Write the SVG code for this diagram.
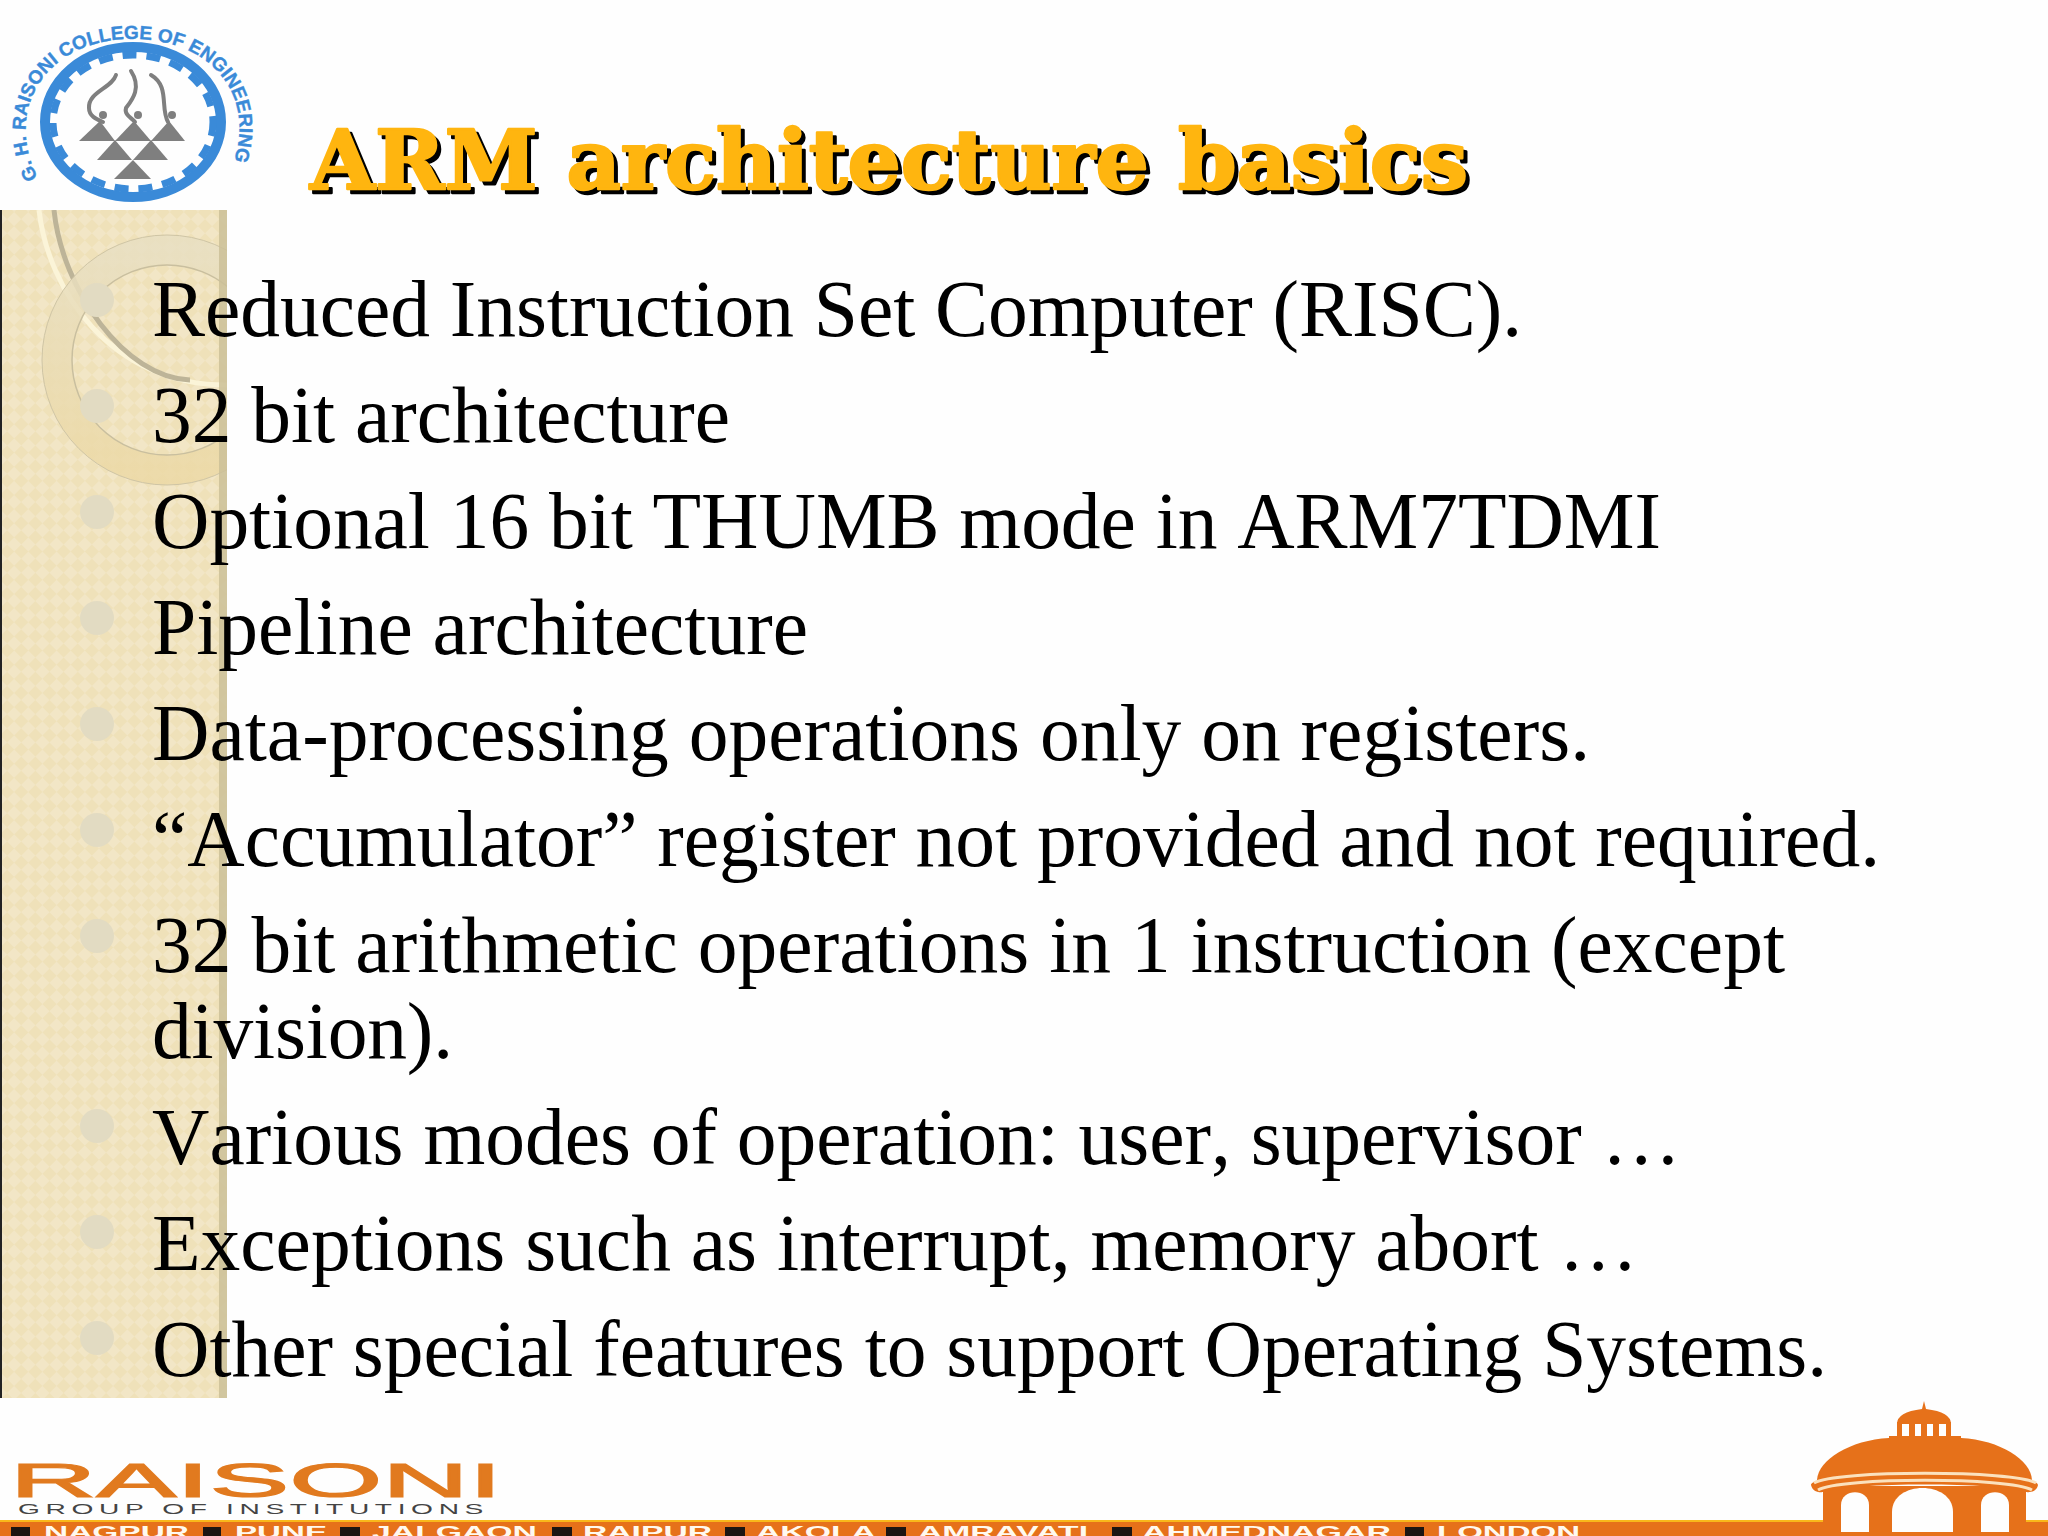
<svg xmlns="http://www.w3.org/2000/svg" width="2048" height="1536" viewBox="0 0 2048 1536">
<style>
.b{font-family:"Liberation Serif","Times New Roman",serif;font-size:79.5px;fill:#000;font-kerning:none}
.t{font-family:"DejaVu Serif",serif;font-weight:700;font-size:83px;stroke-width:2.5px;stroke-linejoin:round}
.l{font-family:"Liberation Sans",Arial,sans-serif;font-weight:700;font-size:17px;fill:#fff9ef}
.lg{font-family:"Liberation Sans",Arial,sans-serif;font-weight:700;font-size:19px;fill:#3a8ad8;stroke:#3a8ad8;stroke-width:.4px}
.d{fill:#e2dbc2}
.s{fill:#1c1512}
.o{fill:#e6711a}
.w{fill:#fefefe}
</style>
<defs>
<pattern id="chk" width="20" height="20" patternUnits="userSpaceOnUse" patternTransform="rotate(45)">
<rect width="20" height="20" fill="#efe1b9"/>
<rect width="10" height="10" fill="#f2e6c6"/>
<rect x="10" y="10" width="10" height="10" fill="#f2e6c6"/>
</pattern>
<linearGradient id="ring" x1="0" y1="0" x2="0" y2="1">
<stop offset="0" stop-color="#e8dfc2"/>
<stop offset="1" stop-color="#ecd9a6"/>
</linearGradient>
<clipPath id="side"><rect x="0" y="210" width="227" height="1188"/></clipPath>
<path id="arcText" d="M38 178C3 110 45 39 133 39C221 39 263 110 226 178"/>
</defs>
<rect width="2048" height="1536" fill="#fefefe"/>
<g id="sidebar" clip-path="url(#side)">
<rect x="0" y="210" width="227" height="1188" fill="url(#chk)"/>
<rect x="0" y="210" width="2" height="1188" fill="#222"/>
<path d="M39 210C48 290 110 385 227 385" fill="none" stroke="#fbf4d8" stroke-width="5"/>
<path d="M54 210C62 290 125 378 190 380" fill="none" stroke="#bdb498" stroke-width="5"/>
<circle cx="167" cy="360" r="110" fill="none" stroke="url(#ring)" stroke-width="30" opacity=".85"/>
<circle cx="167" cy="360" r="125" fill="none" stroke="#cfc5a5" stroke-width="1"/>
<circle cx="167" cy="360" r="95" fill="none" stroke="#c9bf9f" stroke-width="1.5"/>
<rect x="219" y="210" width="8" height="1188" fill="#cbbf98" opacity=".85"/>
<circle class="d" cx="97" cy="300" r="17"/>
<circle class="d" cx="97" cy="406" r="17"/>
<circle class="d" cx="97" cy="512" r="17"/>
<circle class="d" cx="97" cy="618" r="17"/>
<circle class="d" cx="97" cy="724" r="17"/>
<circle class="d" cx="97" cy="830" r="17"/>
<circle class="d" cx="97" cy="936" r="17"/>
<circle class="d" cx="97" cy="1126" r="17"/>
<circle class="d" cx="97" cy="1232" r="17"/>
<circle class="d" cx="97" cy="1338" r="17"/>
</g>
<g id="logo">
<text class="lg"><textPath href="#arcText" textLength="396" lengthAdjust="spacingAndGlyphs">G. H. RAISONI COLLEGE OF ENGINEERING</textPath></text>
<ellipse cx="133" cy="122" rx="88" ry="75" fill="none" stroke="#3a8ad8" stroke-width="10"/>
<ellipse cx="133" cy="122" rx="80" ry="67" fill="none" stroke="#3a8ad8" stroke-width="7" stroke-dasharray="14 10"/>
<g fill="#7f7f7f">
<path d="M79 141L100 121L115 141Z"/>
<path d="M115 141L134 121L151 141Z"/>
<path d="M151 141L169 121L185 141Z"/>
<path d="M97 160L115 140L132 160Z"/>
<path d="M133 160L151 140L168 160Z"/>
<path d="M114 179L133 160L151 179Z"/>
<circle cx="103" cy="115" r="4"/><circle cx="138" cy="115" r="4"/><circle cx="172" cy="115" r="4"/>
</g>
<g fill="none" stroke="#7f7f7f" stroke-width="4" stroke-linecap="round">
<path d="M116 75C112 88 88 92 89 108C89 116 96 119 103 122"/>
<path d="M131 71C142 88 132 100 126 108C124 115 132 118 135 122"/>
<path d="M151 75C170 86 160 108 168 122"/>
</g>
</g>
<g id="title">
<text class="t" x="314" y="193" textLength="1158" lengthAdjust="spacingAndGlyphs" fill="#000" stroke="#000">ARM architecture basics</text>
<text class="t" x="310" y="189" textLength="1158" lengthAdjust="spacingAndGlyphs" fill="#ffb50f" stroke="#ffb50f">ARM architecture basics</text>
</g>
<g id="body">
<text class="b" x="152" y="336" textLength="1370">Reduced Instruction Set Computer (RISC).</text>
<text class="b" x="152" y="442" textLength="578">32 bit architecture</text>
<text class="b" x="152" y="548" textLength="1509">Optional 16 bit THUMB mode in ARM7TDMI</text>
<text class="b" x="152" y="654" textLength="656">Pipeline architecture</text>
<text class="b" x="152" y="760" textLength="1438">Data-processing operations only on registers.</text>
<text class="b" x="152" y="866" textLength="1728">“Accumulator” register not provided and not required.</text>
<text class="b" x="152" y="972" textLength="1633">32 bit arithmetic operations in 1 instruction (except</text>
<text class="b" x="152" y="1058" textLength="301">division).</text>
<text class="b" x="152" y="1164" textLength="1529">Various modes of operation: user, supervisor …</text>
<text class="b" x="152" y="1270" textLength="1486">Exceptions such as interrupt, memory abort …</text>
<text class="b" x="152" y="1376" textLength="1675">Other special features to support Operating Systems.</text>
</g>
<g id="footer">
<text x="10" y="1497" textLength="492" lengthAdjust="spacingAndGlyphs" font-family="Liberation Sans,Arial,sans-serif" font-size="49" fill="#e17a1f" stroke="#e17a1f" stroke-width="1.2">RAISONI</text>
<text x="18" y="1514" textLength="471" lengthAdjust="spacingAndGlyphs" letter-spacing="3" font-family="Liberation Sans,Arial,sans-serif" font-size="15" fill="#444">GROUP OF INSTITUTIONS</text>
<rect class="o" x="0" y="1521" width="2048" height="15"/>
<rect x="0" y="1520" width="2048" height="2" fill="#f9b71b"/>
<rect class="s" x="11" y="1527" width="19" height="9"/>
<rect class="s" x="203" y="1527" width="18" height="9"/>
<rect class="s" x="340" y="1527" width="20" height="9"/>
<rect class="s" x="552" y="1527" width="20" height="9"/>
<rect class="s" x="725" y="1527" width="20" height="9"/>
<rect class="s" x="886" y="1527" width="20" height="9"/>
<rect class="s" x="1112" y="1527" width="20" height="9"/>
<rect class="s" x="1405" y="1527" width="19" height="9"/>
<text class="l" x="44" y="1538" textLength="145" lengthAdjust="spacingAndGlyphs">NAGPUR</text>
<text class="l" x="235" y="1538" textLength="92" lengthAdjust="spacingAndGlyphs">PUNE</text>
<text class="l" x="372" y="1538" textLength="165" lengthAdjust="spacingAndGlyphs">JALGAON</text>
<text class="l" x="583" y="1538" textLength="129" lengthAdjust="spacingAndGlyphs">RAIPUR</text>
<text class="l" x="756" y="1538" textLength="120" lengthAdjust="spacingAndGlyphs">AKOLA</text>
<text class="l" x="918" y="1538" textLength="170" lengthAdjust="spacingAndGlyphs">AMRAVATI</text>
<text class="l" x="1142" y="1538" textLength="249" lengthAdjust="spacingAndGlyphs">AHMEDNAGAR</text>
<text class="l" x="1437" y="1538" textLength="143" lengthAdjust="spacingAndGlyphs">LONDON</text>
</g>
<g id="dome">
<path class="o" d="M1922 1409L1924 1401L1926 1409Q1951 1412 1951 1424H1897Q1897 1412 1922 1409Z"/>
<rect class="o" x="1897" y="1422" width="5" height="16"/><rect class="o" x="1909" y="1422" width="6" height="16"/>
<rect class="o" x="1921" y="1422" width="6" height="16"/><rect class="o" x="1933" y="1422" width="6" height="16"/><rect class="o" x="1946" y="1422" width="5" height="16"/>
<rect class="o" x="1889" y="1436" width="72" height="6"/>
<path class="o" d="M1817 1480C1818 1460 1850 1440 1889 1438H1961C2000 1440 2031 1460 2032 1480Z"/>
<path class="o" d="M1823 1486H2026V1536H1823Z"/>
<path class="w" d="M1892 1532V1512C1892 1480 1953 1480 1953 1512V1532Z"/>
<path class="w" d="M1841 1532V1505C1841 1488 1869 1488 1869 1505V1532Z"/>
<path class="w" d="M1981 1532V1505C1981 1488 2009 1488 2009 1505V1532Z"/>
<path class="o" d="M1811 1485C1814 1468 2035 1468 2038 1485C2036 1494 2026 1492 2026 1492C2000 1482 1850 1482 1823 1492C1823 1492 1813 1494 1811 1485Z"/>
<path d="M1814 1483C1835 1470 2015 1470 2036 1483M1818 1490C1840 1477 2010 1477 2032 1490" fill="none" stroke="#fbe1bd" stroke-width="3"/>
</g>
</svg>
